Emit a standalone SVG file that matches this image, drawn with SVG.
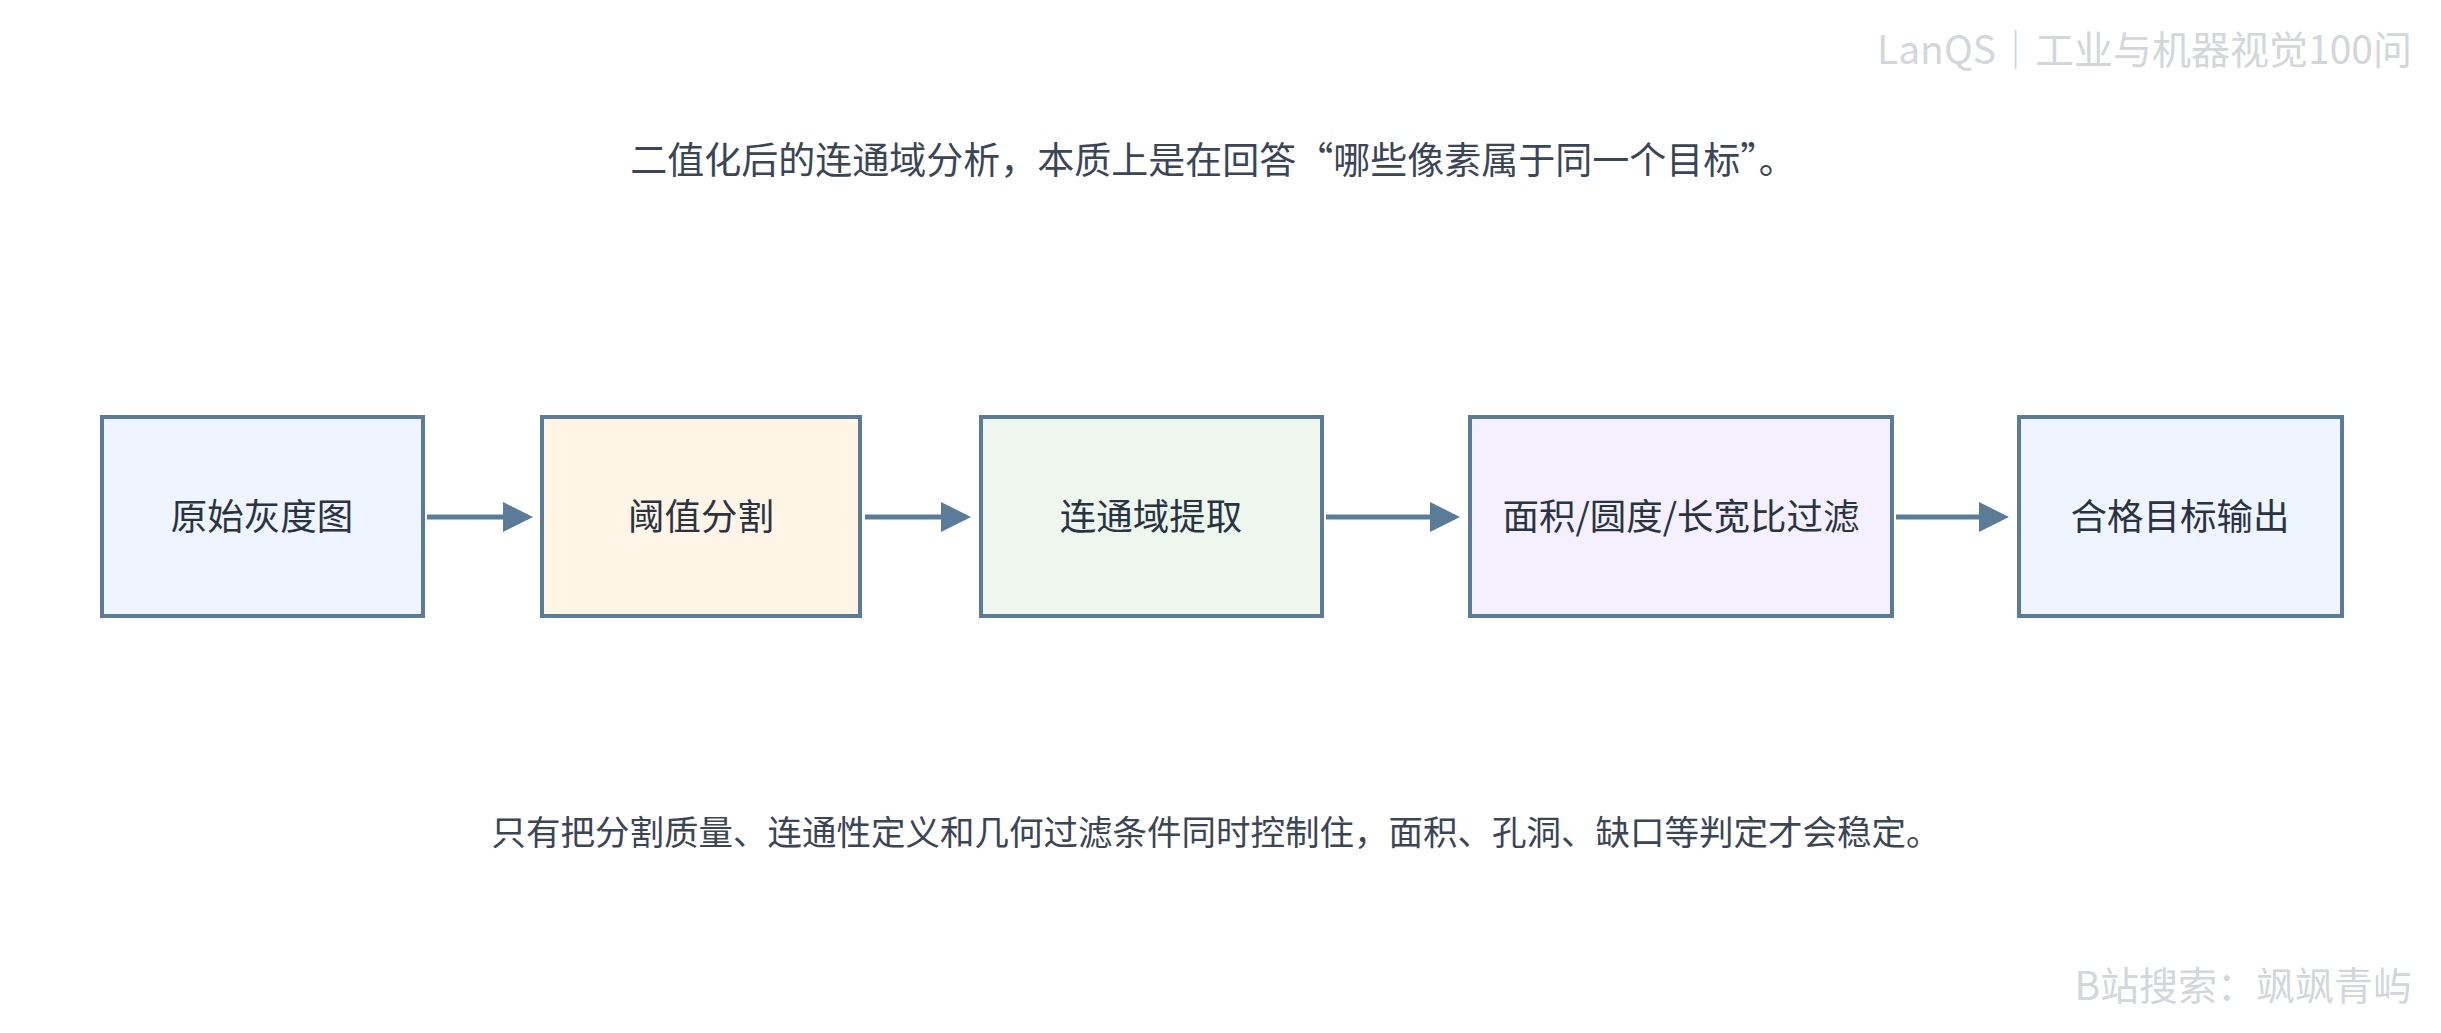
<svg xmlns="http://www.w3.org/2000/svg" width="2441" height="1033" viewBox="0 0 2441 1033">
<style>
.n{stroke:#5b7c99;stroke-width:4}
.t{font-family:"Noto Sans CJK SC","Noto Sans",sans-serif;fill:#2a3342;text-anchor:middle}
.lbl{font-size:36.5px}
.cap{fill:#3a4556}
.wm{font-family:"Noto Sans CJK SC",sans-serif;font-size:39px;fill:#d3d6da;text-anchor:end}
.c{stroke:#5b7c99;stroke-width:5;fill:none;marker-end:url(#a)}
</style>
<defs><marker id="a" markerWidth="6" markerHeight="6" refX="5" refY="3" orient="auto" markerUnits="strokeWidth"><path d="M0,0 L6,3 L0,6 z" fill="#5b7c99"/></marker></defs>
<rect width="2441" height="1033" fill="#fff"/>
<text class="wm" x="2412" y="64">LanQS｜工业与机器视觉100问</text>
<text class="wm" x="2412" y="1000" font-size="40">B站搜索：飒飒青屿</text>
<text class="t cap" x="1213" y="174" font-size="37">二值化后的连通域分析，本质上是在回答“哪些像素属于同一个目标”。</text>
<text class="t cap" x="1216" y="845" font-size="34.5">只有把分割质量、连通性定义和几何过滤条件同时控制住，面积、孔洞、缺口等判定才会稳定。</text>
<g id="connectors">
<line class="c" x1="427" y1="517" x2="528" y2="517"/>
<line class="c" x1="865" y1="517" x2="966" y2="517"/>
<line class="c" x1="1326" y1="517" x2="1455" y2="517"/>
<line class="c" x1="1896" y1="517" x2="2004" y2="517"/>
</g>
<g id="n1"><rect class="n" x="102" y="417" width="321" height="199" fill="#eef5fe"/><text class="t lbl" x="262" y="530">原始灰度图</text></g>
<g id="n2"><rect class="n" x="542" y="417" width="318" height="199" fill="#fff5e6"/><text class="t lbl" x="701" y="530">阈值分割</text></g>
<g id="n3"><rect class="n" x="981" y="417" width="341" height="199" fill="#edf7ee"/><text class="t lbl" x="1151" y="530">连通域提取</text></g>
<g id="n4"><rect class="n" x="1470" y="417" width="422" height="199" fill="#f4f0fd"/><text class="t lbl" x="1681" y="530">面积/圆度/长宽比过滤</text></g>
<g id="n5"><rect class="n" x="2019" y="417" width="323" height="199" fill="#eef5fe"/><text class="t lbl" x="2180" y="530">合格目标输出</text></g>
</svg>
